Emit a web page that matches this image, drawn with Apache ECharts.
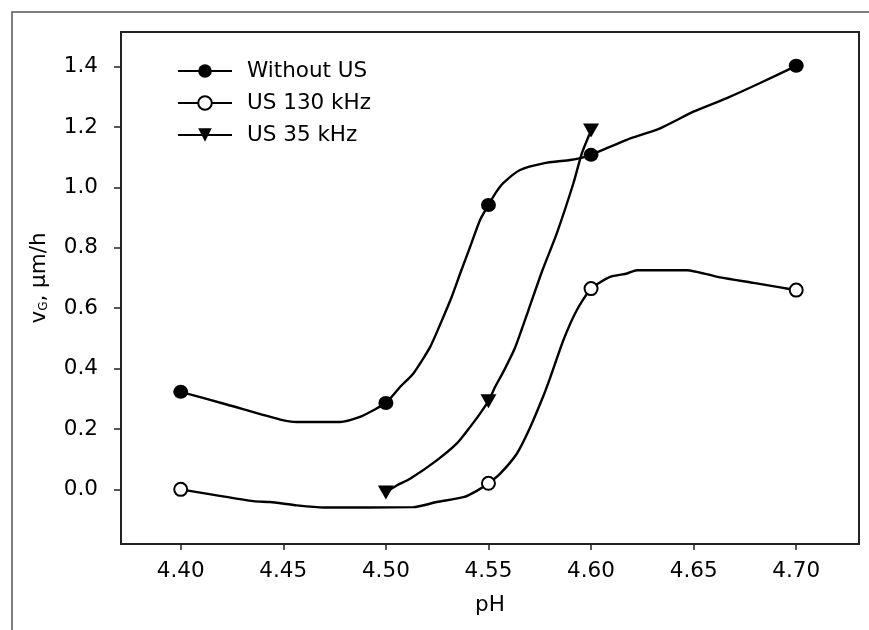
<!DOCTYPE html>
<html>
<head>
<meta charset="utf-8">
<title>vG vs pH</title>
<script src="https://cdn.jsdelivr.net/npm/echarts@6/dist/echarts.min.js"></script>
<style>
    html, body { margin: 0; padding: 0; background: #fff; }
    #chart { width: 869px; height: 630px; }
</style>
</head>
<body>
<div id="chart"></div>
<script>
// 刻度
var xTicks = [4.40, 4.45, 4.50, 4.55, 4.60, 4.65, 4.70];
var yTicks = [0.0, 0.2, 0.4, 0.6, 0.8, 1.0, 1.2, 1.4];

// Without US - 测量点
var woMarkX = [4.40, 4.50, 4.55, 4.60, 4.70];
var woMarkY = [0.323, 0.286, 0.942, 1.108, 1.403];
// Without US - 曲线
var woLineX = [4.4224, 4.4485, 4.4566, 4.4777, 4.4874, 4.4939, 4.5069, 4.5134, 4.5216, 4.5280, 4.5321, 4.5362,
    4.5411, 4.5459, 4.5535, 4.5573, 4.5654, 4.5768, 4.5898, 4.5947, 4.6174, 4.6337, 4.6499, 4.6662, 4.6824];
var woLineY = [0.281, 0.231, 0.223, 0.223, 0.240, 0.262, 0.339, 0.384, 0.472, 0.571, 0.638, 0.715,
    0.804, 0.892, 0.982, 1.015, 1.058, 1.080, 1.091, 1.097, 1.158, 1.196, 1.251, 1.296, 1.346];

// US 130 kHz
var u130MarkX = [4.40, 4.55, 4.60, 4.70];
var u130MarkY = [0.000, 0.020, 0.665, 0.660];
var u130LineX = [4.4354, 4.4435, 4.4566, 4.4695, 4.5134, 4.5248, 4.5378, 4.5443, 4.5557, 4.5638, 4.5703,
    4.5768, 4.5801, 4.5865, 4.5931, 4.6093, 4.6175, 4.6223, 4.6467, 4.6629, 4.6792, 4.6922];
var u130LineY = [-0.039, -0.042, -0.053, -0.060, -0.059, -0.042, -0.026, -0.005, 0.052, 0.118, 0.205,
    0.310, 0.370, 0.494, 0.594, 0.704, 0.715, 0.726, 0.726, 0.702, 0.684, 0.669];

// US 35 kHz
var u35MarkX = [4.50, 4.55, 4.60];
var u35MarkY = [-0.010, 0.292, 1.189];
var u35LineX = [4.5053, 4.5118, 4.5248, 4.5346, 4.5411, 4.5459, 4.5532, 4.5573, 4.5630, 4.5695, 4.5760,
    4.5833, 4.5914, 4.5955];
var u35LineY = [0.013, 0.035, 0.096, 0.152, 0.207, 0.251, 0.339, 0.390, 0.470, 0.594, 0.720,
    0.848, 1.014, 1.113];

var FONT = 'DejaVu Sans';
var FSIZE = 21.5;
var TRIANGLE_DOWN = 'path://M0,0 L16,0 L8,14 Z';

/**
 * @desc 合并曲线点与测量点, 测量点显示符号
 */
function buildData(lx, ly, mx, my) {
    var pts = [];
    for (var i = 0; i < lx.length; i++) {
        pts.push({ value: [lx[i], ly[i]], symbol: 'none' });
    }
    for (var k = 0; k < mx.length; k++) {
        pts.push({ value: [mx[k], my[k]] });
    }
    pts.sort(function (a, b) { return a.value[0] - b.value[0]; });
    return pts;
}

var myChart = echarts.init(document.getElementById('chart'));

var _line = { color: '#000', width: 2.4 };

option = {
    animation: false,
    backgroundColor: '#fff',
    graphic: [{
        type: 'rect',
        left: 9.5, top: 9.5,
        shape: { width: 900, height: 700 },
        style: { fill: 'none', stroke: '#555', lineWidth: 1.5 },
        silent: true
    }],
    grid: {
        left: 121,
        right: 10,
        top: 32,
        bottom: 86,
        show: true,
        borderColor: '#222',
        borderWidth: 2
    },
    legend: {
        orient: 'vertical',
        left: 172,
        top: 55,
        itemWidth: 54,
        itemHeight: 17,
        itemGap: 10,
        data: ['Without US', 'US 130 kHz', 'US 35 kHz'],
        textStyle: { fontFamily: FONT, fontSize: FSIZE, color: '#000', padding: [0, 0, 0, 10] }
    },
    xAxis: {
        type: 'value',
        min: 4.3709,
        max: 4.7306,
        name: 'pH',
        nameLocation: 'middle',
        nameGap: 50,
        nameTextStyle: { fontFamily: FONT, fontSize: FSIZE, color: '#000' },
        splitLine: { show: false },
        axisLine: { onZero: false, lineStyle: { color: '#222', width: 2 } },
        axisTick: { customValues: xTicks, length: 6, lineStyle: { color: '#222', width: 1.5 } },
        axisLabel: {
            customValues: xTicks,
            margin: 16,
            fontFamily: FONT,
            fontSize: FSIZE,
            color: '#000',
            formatter: function (v) { return v.toFixed(2); }
        }
    },
    yAxis: {
        type: 'value',
        min: -0.181,
        max: 1.515,
        name: 'v{sub|G}, µm/h',
        nameLocation: 'middle',
        nameGap: 71,
        nameTextStyle: {
            fontFamily: FONT, fontSize: FSIZE, color: '#000',
            padding: [0, 0, 0, 20],
            rich: {
                sub: { fontFamily: FONT, fontSize: 12, color: '#000', verticalAlign: 'bottom', padding: [9, 0, 0, 0] }
            }
        },
        splitLine: { show: false },
        axisLine: { onZero: false, lineStyle: { color: '#222', width: 2 } },
        axisTick: { customValues: yTicks, length: 7, lineStyle: { color: '#222', width: 1.5 } },
        axisLabel: {
            customValues: yTicks,
            margin: 23,
            fontFamily: FONT,
            fontSize: FSIZE,
            color: '#000',
            formatter: function (v) { return v.toFixed(1); }
        }
    },
    series: [{
        type: 'line',
        name: 'Without US',
        data: buildData(woLineX, woLineY, woMarkX, woMarkY),
        smooth: 0.2,
        symbol: 'circle',
        symbolSize: [15, 14],
        itemStyle: { color: '#000' },
        lineStyle: _line,
        z: 3
    }, {
        type: 'line',
        name: 'US 130 kHz',
        data: buildData(u130LineX, u130LineY, u130MarkX, u130MarkY),
        smooth: 0.2,
        symbol: 'circle',
        symbolSize: 13,
        itemStyle: { color: '#fff', borderColor: '#000', borderWidth: 2 },
        lineStyle: _line,
        z: 2
    }, {
        type: 'line',
        name: 'US 35 kHz',
        data: buildData(u35LineX, u35LineY, u35MarkX, u35MarkY),
        smooth: 0.2,
        symbol: TRIANGLE_DOWN,
        symbolSize: [16, 14],
        itemStyle: { color: '#000' },
        lineStyle: _line,
        z: 2
    }]
};

myChart.setOption(option);
</script>
</body>
</html>
